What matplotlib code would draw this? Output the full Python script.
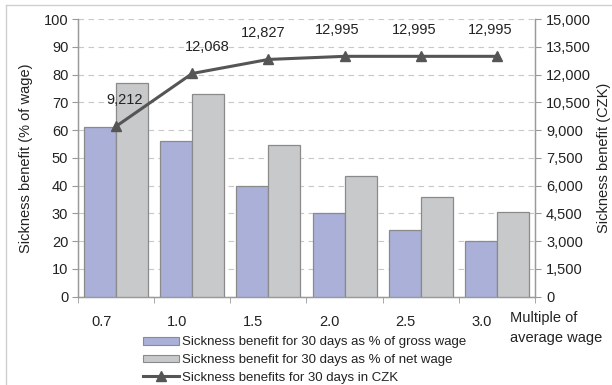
import numpy as np
import matplotlib
matplotlib.rcParams["font.family"] = ["Liberation Sans", "DejaVu Sans"]
import matplotlib.pyplot as plt
import matplotlib.transforms as mtransforms
from matplotlib.patches import Patch
from matplotlib.lines import Line2D
from matplotlib.ticker import FuncFormatter, MultipleLocator

multiples = ["0.7", "1.0", "1.5", "2.0", "2.5", "3.0"]
pct_gross = [61, 56, 40, 30, 24, 20]
pct_net = [77, 73, 54.5, 43.5, 36, 30.5]
czk = [9212, 12068, 12827, 12995, 12995, 12995]
# label nudges (points) so the numbers sit over the line
label_dx = [6, 11, -4, -5, -5, -5]

BLUE = "#aab0d8"
GREY = "#c8c9cb"
EDGE = "#8a8a8a"
LINE = "#555555"
AXIS = "#9a9a9a"
TXT = "#222222"
FS = 10.5

fig = plt.figure(figsize=(6.12, 3.85), dpi=100)
ax = fig.add_axes([0.1275, 0.2294, 0.7465, 0.7206])
x = np.arange(len(multiples))
w = 0.42

ax.bar(x - w / 2, pct_gross, w, color=BLUE, edgecolor=EDGE, lw=0.9, zorder=3)
ax.bar(x + w / 2, pct_net, w, color=GREY, edgecolor=EDGE, lw=0.9, zorder=3)
ax.set_xlim(-0.5, len(multiples) - 0.5)
ax.set_ylim(0, 100)
ax.yaxis.set_major_locator(MultipleLocator(10))
ax.grid(axis="y", color="#c8c8c8", ls=(0, (5, 4)), lw=0.8, zorder=0)
ax.set_axisbelow(True)

ax.set_xticks(x)
ax.set_xticklabels(multiples)
ax.set_xticks(np.arange(-0.5, len(multiples)), minor=True)
ax.tick_params(axis="x", which="major", length=0, pad=13, labelsize=FS, colors=TXT)
ax.tick_params(axis="x", which="minor", length=4, color=AXIS, direction="out")
ax.tick_params(axis="y", length=4, color=AXIS, labelsize=FS, labelcolor=TXT, pad=3)
ax.set_ylabel("Sickness benefit (% of wage)", fontsize=FS, color=TXT, labelpad=8)
# category labels sit a little left of the group centres
shift = mtransforms.ScaledTranslation(-15 / 100, 0, fig.dpi_scale_trans)
for lab in ax.get_xticklabels():
    lab.set_transform(lab.get_transform() + shift)

ax.spines["top"].set_visible(False)
for side in ["left", "right", "bottom"]:
    ax.spines[side].set_color(AXIS)
    ax.spines[side].set_linewidth(1.0)

ax2 = ax.twinx()
ax2.plot(x, czk, color=LINE, lw=2.2, marker="^", ms=7, zorder=5)
ax2.set_ylim(0, 15000)
ax2.yaxis.set_major_locator(MultipleLocator(1500))
ax2.yaxis.set_major_formatter(FuncFormatter(lambda v, _: f"{v:,.0f}"))
ax2.tick_params(axis="y", length=4, color=AXIS, labelsize=FS, labelcolor=TXT, pad=4)
ax2.set_ylabel("Sickness benefit (CZK)", fontsize=FS, color=TXT, labelpad=4)
ax2.spines["top"].set_visible(False)
for side in ["left", "right", "bottom"]:
    ax2.spines[side].set_color(AXIS)

for xi, v, dx in zip(x, czk, label_dx):
    ax2.annotate(f"{v:,}", (xi, v), xytext=(dx, 19), textcoords="offset points",
                 ha="center", va="center", fontsize=FS, color=TXT)

fig.text(0.833, 0.148, "Multiple of\naverage wage", ha="left", va="center",
         fontsize=FS, color=TXT, linespacing=1.5)

handles = [
    Patch(facecolor=BLUE, edgecolor=EDGE, lw=0.8),
    Patch(facecolor=GREY, edgecolor=EDGE, lw=0.8),
    Line2D([], [], color=LINE, lw=2.2, marker="^", ms=7),
]
labels = [
    "Sickness benefit for 30 days as % of gross wage",
    "Sickness benefit for 30 days as % of net wage",
    "Sickness benefits for 30 days in CZK",
]
fig.legend(handles, labels, loc="upper left", bbox_to_anchor=(0.233, 0.126),
           frameon=False, fontsize=9.5, handlelength=2.75, handleheight=0.5,
           handletextpad=0.25, labelspacing=0.42, borderpad=0, borderaxespad=0,
           labelcolor=TXT)

# thin frame around the figure
fig.add_artist(Line2D([0.009, 0.009], [0, 0.987], transform=fig.transFigure,
                      color="#cfcfcf", lw=1.0))
fig.add_artist(Line2D([0.009, 1.0], [0.987, 0.987], transform=fig.transFigure,
                      color="#cfcfcf", lw=1.0))

fig.savefig("out.png", dpi=100)
